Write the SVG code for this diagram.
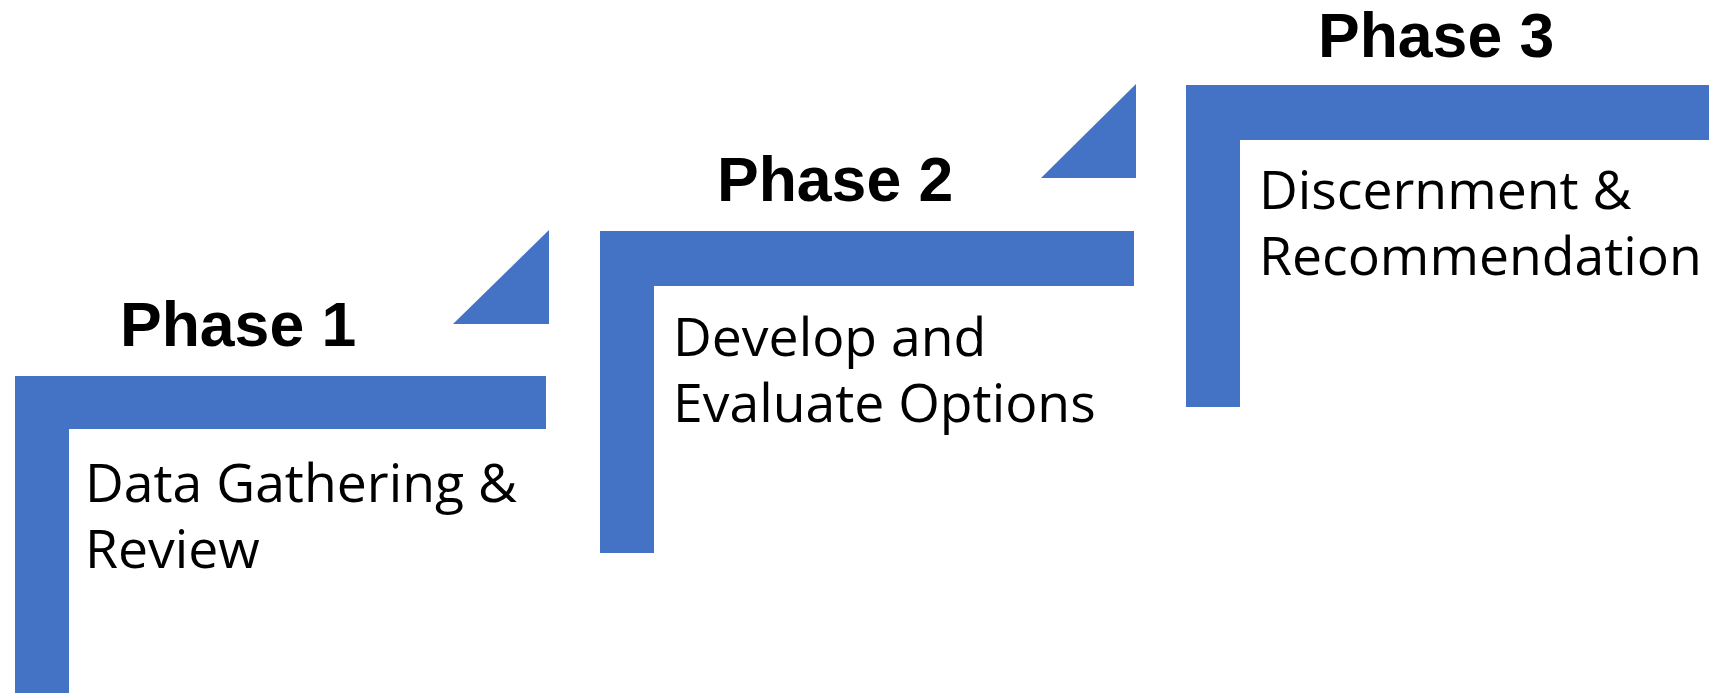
<svg xmlns="http://www.w3.org/2000/svg" width="1709" height="693" viewBox="0 0 1709 693">
<style>
.shape{fill:#4472C4}
.title{font-family:"Liberation Sans",Arial,sans-serif;font-weight:bold;font-size:62.5px;fill:#000}
.body{font-family:"Open Sans","Noto Sans",sans-serif;font-size:53.5px;fill:#000}
</style>
<rect width="1709" height="693" fill="#fff"/>
<g id="phase1">
<path class="shape" d="M15,376 H546 V429 H69 V693 H15 Z"/>
<polygon class="shape" points="549,230 549,324 453,324"/>
<text class="title" x="120" y="346">Phase 1</text>
<text class="body" x="85" y="502">Data Gathering &amp;</text>
<text class="body" x="85" y="568">Review</text>
</g>
<g id="phase2">
<path class="shape" d="M600,231 H1134 V286 H654 V553 H600 Z"/>
<polygon class="shape" points="1136,84 1136,178 1041,178"/>
<text class="title" x="717" y="201">Phase 2</text>
<text class="body" x="673" y="356">Develop and</text>
<text class="body" x="673" y="422">Evaluate Options</text>
</g>
<g id="phase3">
<path class="shape" d="M1186,85 H1709 V140 H1240 V407 H1186 Z"/>
<text class="title" x="1318" y="57">Phase 3</text>
<text class="body" x="1259" y="209">Discernment &amp;</text>
<text class="body" x="1259" y="275">Recommendation</text>
</g>
<g id="connectors"/>
</svg>
